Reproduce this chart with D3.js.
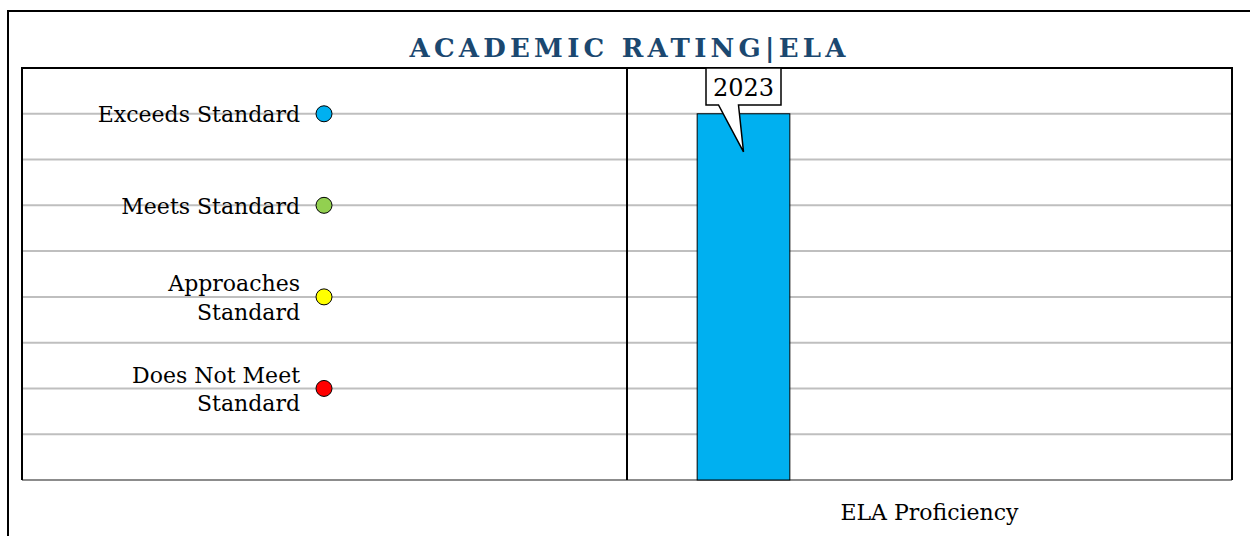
<!DOCTYPE html>
<html>
<head>
<meta charset="utf-8">
<script src="https://cdn.jsdelivr.net/npm/d3@7"></script>
<style>
  html, body { margin: 0; padding: 0; background: #fff; }
  svg { display: block; }
  text { font-family: "DejaVu Serif", serif; }
</style>
</head>
<body>
<svg id="chart" width="1250" height="536"></svg>
<script>
// ---- data ----
const title = "ACADEMIC RATING|ELA";
const xAxisLabel = "ELA Proficiency";
const levelLabels = [["Exceeds Standard"], ["Meets Standard"], ["Approaches", "Standard"], ["Does Not Meet", "Standard"]];
const levelValues = [8, 6, 4, 2];
const levelColors = ["#00B0F0", "#92D050", "#FFFF00", "#FF0000"];
const years = ["2023"];
const scores = [8];
const gridTicks = [1, 2, 3, 4, 5, 6, 7, 8, 9];

// ---- layout ----
const svg = d3.select("#chart");
const plot = { left: 22, right: 1232, top: 68, bottom: 480 };
const divider = 627;

const y = d3.scaleLinear().domain([0, 9]).range([plot.bottom, plot.top]);
const x = d3.scaleBand().domain(years).range([674, 813]).padding(0.2);

// outer frame
svg.append("rect").attr("x", 8).attr("y", 11).attr("width", 1260).attr("height", 560)
  .attr("fill", "none").attr("stroke", "#000").attr("stroke-width", 2);

// title
svg.append("text").attr("x", 627.5).attr("y", 57).attr("text-anchor", "middle")
  .attr("font-size", 26).attr("font-weight", "bold").attr("fill", "#1B4870")
  .attr("textLength", 436).attr("lengthAdjust", "spacing")
  .text(title);

// gridlines
svg.append("g").selectAll("line").data(gridTicks.filter(d => d < 9)).join("line")
  .attr("x1", plot.left).attr("x2", plot.right)
  .attr("y1", d => y(d)).attr("y2", d => y(d))
  .attr("stroke", "#BFBFBF").attr("stroke-width", 2);

// x axis baseline
svg.append("line").attr("x1", plot.left).attr("x2", plot.right)
  .attr("y1", plot.bottom).attr("y2", plot.bottom)
  .attr("stroke", "#8C8C8C").attr("stroke-width", 2);

// plot border (top, left, right)
svg.append("path")
  .attr("d", `M${plot.left},${plot.bottom}V${plot.top}H${plot.right}V${plot.bottom}`)
  .attr("fill", "none").attr("stroke", "#000").attr("stroke-width", 2);

// divider
svg.append("line").attr("x1", divider).attr("x2", divider)
  .attr("y1", plot.top).attr("y2", plot.bottom)
  .attr("stroke", "#000").attr("stroke-width", 2);

// bars
svg.append("g").selectAll("rect").data(years).join("rect")
  .attr("x", d => x(d)).attr("width", x.bandwidth())
  .attr("y", (d, i) => y(scores[i]))
  .attr("height", (d, i) => y(0) - y(scores[i]))
  .attr("fill", "#00B0F0").attr("stroke", "#000").attr("stroke-width", 1);

// callout labels
years.forEach((yr, i) => {
  const cx = x(yr) + x.bandwidth() / 2;
  const tipY = y(scores[i]) + 38;
  const bw = 75, bh = 37;
  const bx = cx - 37.5, by = y(9);
  const g = svg.append("g");
  g.append("path")
    .attr("d", `M${bx},${by}H${bx + bw}V${by + bh}H${cx - 5}L${cx},${tipY}L${cx - 25},${by + bh}H${bx}Z`)
    .attr("fill", "#fff").attr("stroke", "#000").attr("stroke-width", 1.5);
  g.append("text").attr("x", bx + bw / 2).attr("y", by + 28)
    .attr("text-anchor", "middle").attr("font-size", 24).attr("fill", "#000")
    .text(yr);
});

// level labels and dots
const lvl = svg.append("g");
levelLabels.forEach((lines, i) => {
  const cy = y(levelValues[i]);
  const lh = 28.5;
  const t = lvl.append("text").attr("text-anchor", "end").attr("font-size", 22).attr("fill", "#000");
  lines.forEach((ln, j) => {
    t.append("tspan").attr("x", 300)
      .attr("y", cy + 8.5 + (j - (lines.length - 1) / 2) * lh)
      .text(ln);
  });
  lvl.append("circle").attr("cx", 324).attr("cy", cy).attr("r", 8)
    .attr("fill", levelColors[i]).attr("stroke", "#000").attr("stroke-width", 1);
});

// x axis label
svg.append("text").attr("x", (divider + plot.right) / 2).attr("y", 520)
  .attr("text-anchor", "middle").attr("font-size", 22).attr("fill", "#000")
  .text(xAxisLabel);
</script>
</body>
</html>
